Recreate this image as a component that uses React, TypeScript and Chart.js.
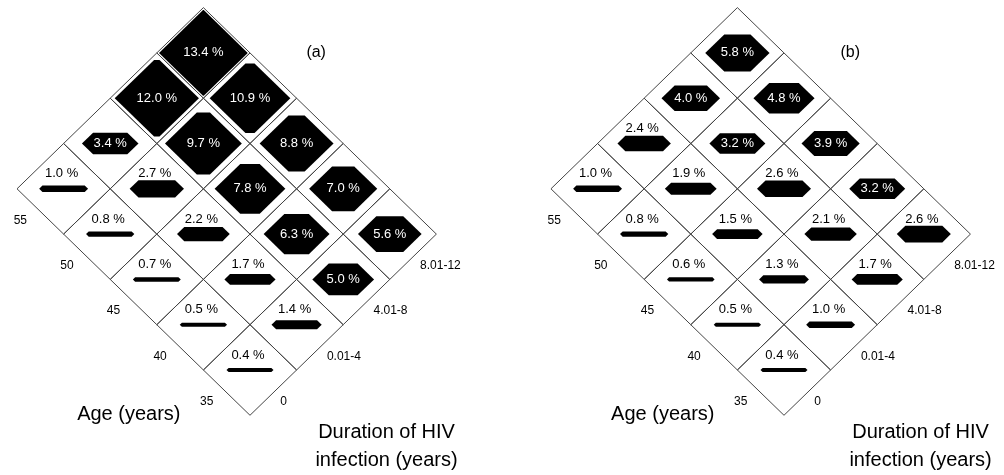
import React, { useEffect, useRef } from 'react';
import { Chart, registerables } from 'chart.js';

Chart.register(...registerables);

// ---- data ----
const ageLabels = ['35', '40', '45', '50', '55'];
const durationLabels = ['0', '0.01-4', '4.01-8', '8.01-12'];
// rows = age (35 -> 55), columns = duration (0 -> 8.01-12), in %
const prevalenceA = [
  [0.4, 1.4, 5.0, 5.6],
  [0.5, 1.7, 6.3, 7.0],
  [0.7, 2.2, 7.8, 8.8],
  [0.8, 2.7, 9.7, 10.9],
  [1.0, 3.4, 12.0, 13.4],
];
const prevalenceB = [
  [0.4, 1.0, 1.7, 2.6],
  [0.5, 1.3, 2.1, 3.2],
  [0.6, 1.5, 2.6, 3.9],
  [0.8, 1.9, 3.2, 4.8],
  [1.0, 2.4, 4.0, 5.8],
];
const panelTitles = ['(a)', '(b)'];
const ageTitle = 'Age (years)';
const durationTitle = ['Duration of HIV', 'infection (years)'];

const FONT = '"Liberation Sans", Arial, Helvetica, sans-serif';

type Cell = { x: number; y: number; v: number; i: number; j: number };

function buildCells(values: number[][]): Cell[] {
  const cells: Cell[] = [];
  values.forEach((row, i) =>
    row.forEach((v, j) => cells.push({ x: j - i, y: i + j, v, i, j }))
  );
  return cells;
}

const diamondPlugin = {
  id: 'diamondGrid',
  afterDatasetsDraw(chart: any, _args: any, opts: any) {
    const { ctx } = chart;
    const xs = chart.scales.x;
    const ys = chart.scales.y;
    const px = (v: number) => xs.getPixelForValue(v);
    const py = (v: number) => ys.getPixelForValue(v);
    const cells: Cell[] = chart.data.datasets[0].data;
    ctx.save();

    // shapes
    ctx.fillStyle = '#000';
    cells.forEach((c) => {
      const bw = Math.min(0.955, 0.49 + 0.0345 * c.v);
      const a = Math.min(bw, Math.max(0.045, 0.0705 * c.v));
      const pts = [
        [c.x - bw, c.y],
        [c.x - bw + a, c.y + a],
        [c.x + bw - a, c.y + a],
        [c.x + bw, c.y],
        [c.x + bw - a, c.y - a],
        [c.x - bw + a, c.y - a],
      ];
      ctx.beginPath();
      pts.forEach((p, k) => {
        const X = px(p[0]);
        const Y = py(p[1]);
        if (k === 0) ctx.moveTo(X, Y);
        else ctx.lineTo(X, Y);
      });
      ctx.closePath();
      ctx.fill();
    });

    // grid (cell outlines)
    ctx.strokeStyle = '#444';
    ctx.lineWidth = 1;
    cells.forEach((c) => {
      ctx.beginPath();
      ctx.moveTo(px(c.x - 1), py(c.y));
      ctx.lineTo(px(c.x), py(c.y + 1));
      ctx.lineTo(px(c.x + 1), py(c.y));
      ctx.lineTo(px(c.x), py(c.y - 1));
      ctx.closePath();
      ctx.stroke();
    });

    // values
    ctx.font = `13px ${FONT}`;
    ctx.textAlign = 'center';
    ctx.textBaseline = 'middle';
    cells.forEach((c) => {
      const label = c.v.toFixed(1) + ' %';
      if (c.v >= 3) {
        ctx.fillStyle = '#fff';
        ctx.fillText(label, px(c.x), py(c.y));
      } else {
        ctx.fillStyle = '#000';
        ctx.fillText(label, px(c.x) - 2, py(c.y + 0.33));
      }
    });

    // axis tick labels
    ctx.fillStyle = '#000';
    ctx.font = `12px ${FONT}`;
    ageLabels.forEach((lab, i) => {
      const mx = px(-i - 0.5);
      const my = py(i - 0.5);
      ctx.textAlign = 'center';
      ctx.fillText(lab, mx - 20, my + 9);
    });
    durationLabels.forEach((lab, j) => {
      const mx = px(j + 0.5);
      const my = py(j - 0.5);
      ctx.textAlign = 'left';
      ctx.fillText(lab, mx + 7, my + 9);
    });

    // panel title
    ctx.font = `16px ${FONT}`;
    ctx.textAlign = 'center';
    ctx.fillText(opts.title, px(opts.titlePos[0]), py(opts.titlePos[1]) + 1);

    // axis titles
    ctx.font = `20px ${FONT}`;
    ctx.fillText(ageTitle, px(opts.agePos[0]), py(opts.agePos[1]));
    durationTitle.forEach((t, k) => {
      ctx.fillText(t, px(opts.durPos[0]), py(opts.durPos[1]) + k * 28);
    });

    ctx.restore();
  },
};

type PanelProps = {
  values: number[][];
  title: string;
  xMin: number;
  xMax: number;
};

function Panel({ values, title, xMin, xMax }: PanelProps) {
  const ref = useRef<HTMLCanvasElement>(null);
  useEffect(() => {
    if (!ref.current) return;
    const chart = new Chart(ref.current, {
      type: 'scatter',
      data: {
        datasets: [
          {
            data: buildCells(values) as any,
            pointRadius: 0,
            pointHoverRadius: 0,
          },
        ],
      },
      options: {
        animation: false,
        responsive: false,
        events: [],
        layout: { padding: 0 },
        scales: {
          x: { type: 'linear', min: xMin, max: xMax, display: false },
          y: { type: 'linear', min: -2.318, max: 8.168, display: false },
        },
        plugins: {
          legend: { display: false },
          tooltip: { enabled: false },
          diamondGrid: {
            title,
            titlePos: [1.42, 7.02],
            agePos: [-2.6, -0.99],
            durPos: [2.93, -1.37],
          },
        } as any,
      },
      plugins: [diamondPlugin],
    });
    return () => chart.destroy();
  }, []);
  return <canvas ref={ref} width={502} height={475} style={{ display: 'block' }} />;
}

export default function App() {
  return (
    <div
      style={{
        position: 'absolute',
        left: 0,
        top: 0,
        width: 1004,
        height: 475,
        display: 'flex',
        background: '#fff',
      }}
    >
      <Panel values={prevalenceA} title={panelTitles[0]} xMin={-5.365} xMax={5.408} />
      <Panel values={prevalenceB} title={panelTitles[1]} xMin={-6.05} xMax={4.72} />
    </div>
  );
}
